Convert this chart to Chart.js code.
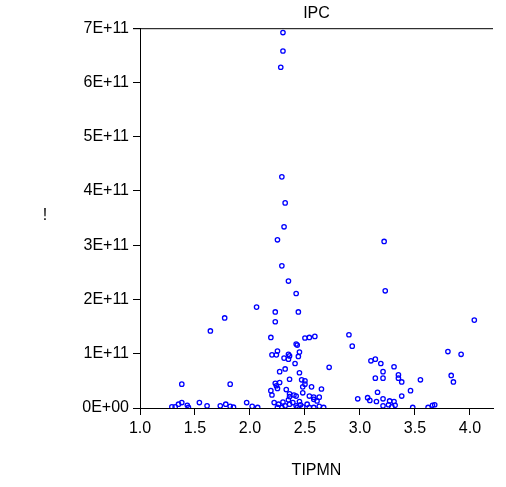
<!DOCTYPE html>
<html>
<head>
<meta charset="utf-8">
<script src="https://cdn.jsdelivr.net/npm/chart.js@4"></script>
<style>
  html, body { margin: 0; padding: 0; background: #fff; }
  #wrap { width: 506px; height: 487px; }
</style>
</head>
<body>
<div id="wrap"><canvas id="scatter"></canvas></div>
<script>
// TIPMN (x) and IPC (y, in units of 1E+11)
const tipmn = [
  2.30, 2.30, 2.28, 2.29, 2.32, 2.31, 2.25, 2.29, 2.35, 2.42,
  2.06, 2.23, 2.44, 2.23, 2.19, 2.50, 2.54, 2.59, 1.77, 1.64,
  2.25, 2.20, 2.24, 2.35, 2.36, 2.31, 2.35, 2.42, 2.43, 2.45,
  2.44, 2.41, 2.27, 2.32, 2.45, 2.72, 2.36, 2.47, 2.50, 2.23,
  2.27, 2.24, 2.25, 2.50, 2.48, 2.56, 2.65, 2.19, 2.33, 2.48,
  2.20, 2.36, 2.40, 2.42, 2.54, 2.58, 2.63, 1.38, 1.82, 1.29,
  1.32, 1.35, 1.38, 1.43, 1.44, 1.54, 1.61, 1.73, 1.78, 1.82,
  1.85, 1.97, 2.02, 2.07, 2.22, 2.26, 2.30, 2.35, 2.29, 2.32,
  2.36, 2.39, 2.42, 2.46, 2.45, 2.48, 2.52, 2.54, 2.58, 2.61,
  2.63, 2.67, 2.58, 2.36, 2.43, 2.25, 3.22, 3.23, 4.04, 2.90,
  2.93, 3.80, 3.92, 3.10, 3.14, 3.19, 3.31, 3.21, 3.35, 3.35,
  3.38, 3.14, 3.21, 3.55, 3.83, 3.85, 3.46, 3.16, 3.38, 2.98,
  3.07, 3.09, 3.15, 3.21, 3.27, 3.31, 3.21, 3.26, 3.32, 3.29,
  3.48, 3.62, 3.66, 3.68
];
const ipcE11 = [
  6.92, 6.58, 6.28, 4.26, 3.78, 3.34, 3.10, 2.62, 2.34, 2.11,
  1.86, 1.77, 1.77, 1.59, 1.30, 1.29, 1.30, 1.32, 1.66, 1.42,
  1.05, 0.98, 0.98, 0.99, 0.96, 0.92, 0.90, 1.18, 1.16, 1.03,
  0.95, 0.82, 0.67, 0.72, 0.65, 0.75, 0.53, 0.52, 0.50, 0.455,
  0.47, 0.41, 0.36, 0.44, 0.39, 0.39, 0.35, 0.32, 0.34, 0.28,
  0.24, 0.26, 0.24, 0.22, 0.22, 0.20, 0.20, 0.44, 0.44, 0.02,
  0.02, 0.07, 0.10, 0.05, 0.01, 0.10, 0.04, 0.04, 0.07, 0.03,
  0.015, 0.10, 0.03, 0.01, 0.10, 0.07, 0.11, 0.15, 0.01, 0.04,
  0.07, 0.10, 0.04, 0.06, 0.12, 0.02, 0.07, 0.01, 0.01, 0.13,
  0.03, 0.01, 0.16, 0.21, 0.01, 0.01, 3.07, 2.16, 1.62, 1.35,
  1.14, 1.04, 0.99, 0.87, 0.90, 0.82, 0.76, 0.67, 0.61, 0.55,
  0.48, 0.55, 0.55, 0.52, 0.60, 0.48, 0.32, 0.29, 0.22, 0.17,
  0.19, 0.14, 0.12, 0.17, 0.13, 0.12, 0.04, 0.06, 0.05, 0.02,
  0.01, 0.01, 0.05, 0.06
];
const xTicks = [1.0, 1.5, 2.0, 2.5, 3.0, 3.5, 4.0];
const yTicks = [0, 1, 2, 3, 4, 5, 6, 7];

const E11 = 1e11;
const points = tipmn.map((x, i) => ({ x: x, y: ipcE11[i] * E11 }));

Chart.defaults.color = '#000';
Chart.defaults.font.family = '"Liberation Sans", Arial, sans-serif';
Chart.defaults.font.size = 16;

// top frame line + the stray y-axis mark
const framePlugin = {
  id: 'frame',
  afterDraw(chart) {
    const ctx = chart.ctx;
    const a = chart.chartArea;
    ctx.save();
    ctx.strokeStyle = '#000';
    ctx.lineWidth = 1;
    ctx.beginPath();
    ctx.moveTo(a.left - 7, a.top + 0.5);
    ctx.lineTo(a.right, a.top + 0.5);
    ctx.stroke();
    ctx.fillStyle = '#000';
    ctx.font = '16px "Liberation Sans", Arial, sans-serif';
    ctx.textAlign = 'center';
    ctx.textBaseline = 'middle';
    ctx.fillText('!', a.left - 95, (a.top + a.bottom) / 2 - 3);
    ctx.restore();
  }
};

const scatterConfig = {
  type: 'scatter',
  data: {
    datasets: [{
      label: 'IPC',
      data: points,
      borderColor: '#0000ff',
      backgroundColor: 'rgba(0,0,0,0)',
      pointRadius: 2.2,
      pointBorderWidth: 1.3,
      pointHoverRadius: 2.2
    }]
  },
  plugins: [framePlugin],
  options: {
    responsive: true,
    maintainAspectRatio: false,
    animation: false,
    layout: { padding: { left: 0, right: 13, top: 0, bottom: 0 } },
    plugins: {
      legend: { display: false },
      tooltip: { enabled: false },
      title: {
        display: true,
        text: 'IPC',
        fullSize: false,
        font: { size: 16, weight: 'normal' },
        padding: { top: 4, bottom: 5 }
      }
    },
    scales: {
      x: {
        type: 'linear',
        min: 1.0,
        max: 4.21,
        afterBuildTicks: (scale) => { scale.ticks = xTicks.map(v => ({ value: v })); },
        afterFit: (scale) => { scale.height = 79; },
        grid: { drawOnChartArea: false, tickLength: 7, color: '#000' },
        border: { color: '#000', width: 1 },
        ticks: {
          padding: 4,
          maxRotation: 0,
          callback: (v) => Number(v).toFixed(1)
        },
        title: {
          display: true,
          text: 'TIPMN',
          font: { size: 16 },
          padding: { top: 4, bottom: 7 }
        }
      },
      y: {
        type: 'linear',
        min: 0,
        max: 7 * E11,
        afterBuildTicks: (scale) => { scale.ticks = yTicks.map(v => ({ value: v * E11 })); },
        afterFit: (scale) => { scale.width = 140; },
        grid: { drawOnChartArea: false, tickLength: 7, color: '#000' },
        border: { color: '#000', width: 1 },
        ticks: {
          padding: 4,
          callback: (v) => v === 0 ? '0E+00' : Math.round(v / E11) + 'E+11'
        }
      }
    }
  }
};

var scatterChart = new Chart(
  document.getElementById('scatter'),
  scatterConfig
);
</script>
</body>
</html>
